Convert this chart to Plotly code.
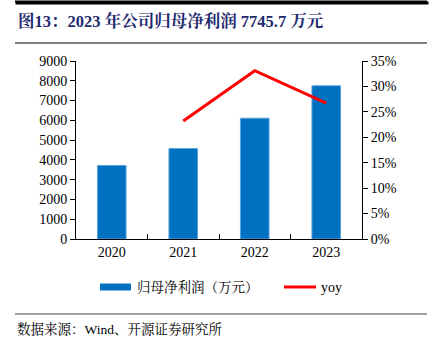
import plotly.graph_objects as go

years = ["2020", "2021", "2022", "2023"]
profit = [3715, 4573, 6108, 7745.7]
yoy_years = ["2021", "2022", "2023"]
yoy = [23.2, 33.1, 26.7]

left_ticks = [0, 1000, 2000, 3000, 4000, 5000, 6000, 7000, 8000, 9000]
right_ticks = [0, 5, 10, 15, 20, 25, 30, 35]
right_labels = [f"{v}%" for v in right_ticks]

SERIF = "Liberation Serif, Times New Roman, Noto Serif CJK SC, Noto Sans CJK SC, serif"

W, H = 432, 356
L, R, T, B = 76, 70, 61, 117
PW, PH = W - L - R, H - T - B


def px(x):
    return (x - L) / PW


def py(y):
    return (H - B - y) / PH


fig = go.Figure()
fig.add_trace(go.Bar(x=years, y=profit, name="归母净利润（万元）",
                     marker=dict(color="#0070C0", line=dict(color="#5BA3DB", width=1)),
                     yaxis="y", showlegend=False))
fig.add_trace(go.Scatter(x=yoy_years, y=yoy, name="yoy", mode="lines",
                         line=dict(color="#FF0000", width=3), yaxis="y2",
                         showlegend=False))

fig.update_layout(
    width=W, height=H,
    margin=dict(l=L, r=R, t=T, b=B),
    paper_bgcolor="white", plot_bgcolor="white",
    font=dict(family=SERIF, size=14, color="black"),
    bargap=0.6,
    showlegend=False,
    xaxis=dict(type="category", categoryorder="array", categoryarray=years,
               showline=True, linecolor="black", linewidth=1,
               ticks="inside", tickson="boundaries", ticklen=5, tickcolor="black",
               showgrid=False, zeroline=False, tickfont=dict(size=14)),
    yaxis=dict(range=[0, 9000], tickvals=left_ticks, showline=True, linecolor="black",
               linewidth=1, ticks="outside", ticklen=5, tickcolor="black",
               showgrid=False, zeroline=False, tickfont=dict(size=14)),
    yaxis2=dict(range=[0, 35], tickvals=right_ticks, ticktext=right_labels,
                overlaying="y", side="right", showline=True, linecolor="black",
                linewidth=1, ticks="outside", ticklen=5, tickcolor="black",
                showgrid=False, zeroline=False, tickfont=dict(size=14)),
)

# header / footer rules
fig.add_shape(type="line", xref="paper", yref="paper", x0=px(15), x1=px(427),
              y0=py(1.5), y1=py(1.5), line=dict(color="black", width=2))
fig.add_annotation(text="&nbsp;", xref="paper", yref="paper", x=px(15), y=py(0.5),
                   xanchor="left", yanchor="top", showarrow=False,
                   width=412, height=2, bgcolor="black", borderpad=0,
                   font=dict(size=1))
fig.add_shape(type="line", xref="paper", yref="paper", x0=px(15), x1=px(427),
              y0=py(43), y1=py(43), line=dict(color="#7F7F7F", width=2))
fig.add_shape(type="line", xref="paper", yref="paper", x0=px(15), x1=px(427),
              y0=py(314), y1=py(314), line=dict(color="#404040", width=1))

# legend (drawn manually to match wide swatches)
fig.add_shape(type="rect", xref="paper", yref="paper", x0=px(100), x1=px(131),
              y0=py(290.5), y1=py(283.5), fillcolor="#0070C0", line=dict(width=0))
fig.add_annotation(text="归母净利润（万元）", xref="paper", yref="paper",
                   x=px(135), y=py(287), xanchor="left", yanchor="middle",
                   showarrow=False, font=dict(size=13.5, family=SERIF))
fig.add_shape(type="line", xref="paper", yref="paper", x0=px(284), x1=px(316),
              y0=py(287), y1=py(287), line=dict(color="#FF0000", width=3))
fig.add_annotation(text="yoy", xref="paper", yref="paper",
                   x=px(319), y=py(287), xanchor="left", yanchor="middle",
                   showarrow=False, font=dict(size=14, family=SERIF))

fig.add_annotation(text="<b>图13：2023 年公司归母净利润 7745.7 万元</b>",
                   xref="paper", yref="paper", x=px(16), y=py(21),
                   xanchor="left", yanchor="middle", showarrow=False,
                   font=dict(size=16.5, color="#1F2A6E", family=SERIF))
fig.add_annotation(text="数据来源：Wind、开源证券研究所",
                   xref="paper", yref="paper", x=px(15), y=py(329),
                   xanchor="left", yanchor="middle", showarrow=False,
                   font=dict(size=13.5, color="black", family=SERIF))

fig.write_html("out.html", config={"displayModeBar": False},
               post_script="document.body.style.margin='0';")
